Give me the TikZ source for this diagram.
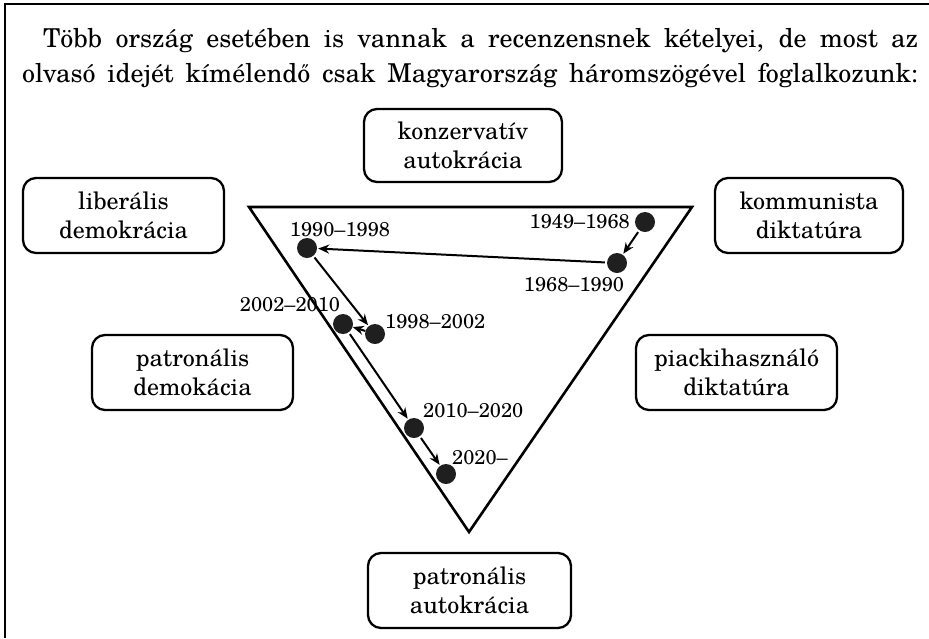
\documentclass[tikz,border=0pt]{standalone}
\usepackage{fontspec}
\setmainfont{TeX Gyre Schola}
\usetikzlibrary{arrows.meta}
\begin{document}
\begin{tikzpicture}[x=1pt,y=-1pt,
  box/.style={draw, line width=2.3pt, rounded corners=13pt, align=center,
    minimum height=75pt, inner sep=0pt, font=\fontsize{24}{29}\selectfont},
  dot/.style={circle, fill=black!88, minimum size=20pt, inner sep=0pt},
  yr/.style={font=\fontsize{20}{24}\selectfont, inner sep=1pt},
  arr/.style={-{Stealth[length=11pt,width=9pt]}, line width=2pt, shorten <=2pt, shorten >=1pt}]
\useasboundingbox (0,0) rectangle (929,638);
% frame
\coordinate (fb) at (5,638);
\coordinate (fc) at (5,4);
\coordinate (fr) at (929,4);
\draw[line width=2.4pt] (fb) -- (fc) -- (fr);
% heading
\node[anchor=base west, inner sep=0pt] (head) at (22,47)
  {\parbox[t]{896pt}{\fontsize{26}{35}\selectfont\setlength{\parindent}{21pt}\setlength{\parfillskip}{0pt}%
  \indent Több ország esetében is vannak a recenzensnek kételyei, de most az\linebreak
  olvasó idejét kímélendő csak Magyarország háromszögével foglalkozunk:}};
% triangle
\coordinate (tl) at (249,207);
\coordinate (tr) at (692,207);
\coordinate (tb) at (469,532);
\draw[line width=2.6pt] (tl) -- (tr) -- (tb) -- cycle;
% boxes
\node[box, minimum width=198pt, minimum height=73pt] (konz) at (463,145.5) {konzervatív\\autokrácia};
\node[box, minimum width=201pt] (lib) at (123.5,215.5) {liberális\\demokrácia};
\node[box, minimum width=188pt] (komm) at (809,215.5) {kommunista\\diktatúra};
\node[box, minimum width=201pt] (patdem) at (192.5,372.5) {patronális\\demokácia};
\node[box, minimum width=201pt] (piac) at (736.5,372.5) {piackihasználó\\diktatúra};
\node[box, minimum width=203pt] (patauto) at (469.5,590.5) {patronális\\autokrácia};
% dots
\node[dot] (d1949) at (645,222) {};
\node[dot] (d1968) at (617,263) {};
\node[dot] (d1990) at (307,248) {};
\node[dot] (d2002) at (343,324) {};
\node[dot] (d1998) at (375,334) {};
\node[dot] (d2010) at (414,428) {};
\node[dot] (d2020) at (446,474) {};
% labels
\node[yr, anchor=east] (l1949) at (631,222) {1949–1968};
\node[yr] (l1968) at (574,285) {1968–1990};
\node[yr] (l1990) at (340,230) {1990–1998};
\node[yr] (l2002) at (290,305) {2002–2010};
\node[yr, anchor=west] (l1998) at (384,322) {1998–2002};
\node[yr, anchor=west] (l2010) at (422,411) {2010–2020};
\node[yr, anchor=west] (l2020) at (451,458) {2020–};
% arrows
\draw[arr] (d1949) -- (d1968);
\draw[arr] (d1968) -- (d1990);
\draw[arr] (d1990) -- (d1998);
\draw[arr, shorten <=0pt, shorten >=0pt] (d1998) -- (d2002);
\draw[arr] (d2002) -- (d2010);
\draw[arr] (d2010) -- (d2020);
\end{tikzpicture}
\end{document}
